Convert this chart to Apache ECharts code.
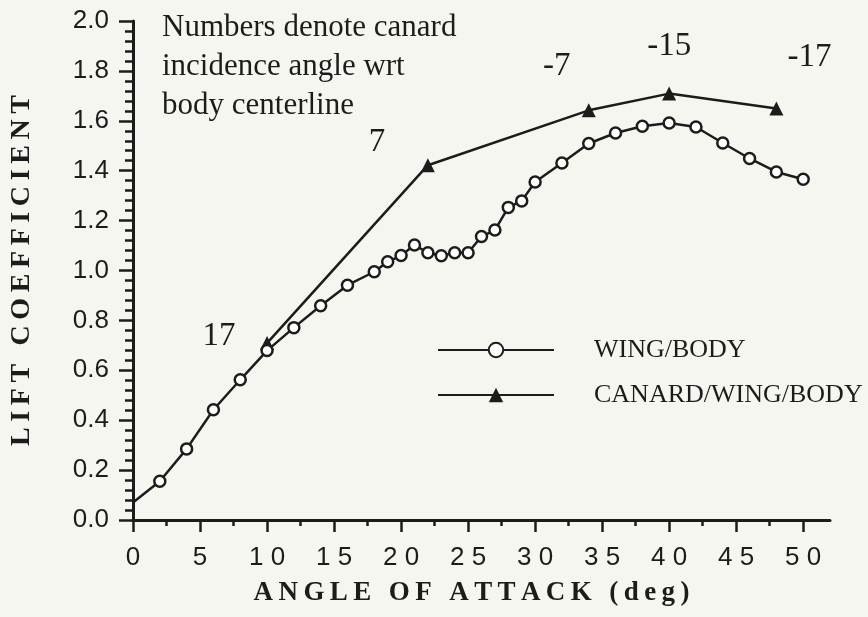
<!DOCTYPE html>
<html>
<head>
<meta charset="utf-8">
<script src="https://cdn.jsdelivr.net/npm/echarts@6/dist/echarts.min.js"></script>
<style>
  html, body { margin: 0; padding: 0; background: #f6f6f1; }
  #chart { width: 868px; height: 617px; }
</style>
</head>
<body>
<div id="chart"></div>
<script>
// wing/body: angle of attack (deg) and lift coefficient
var wingAlpha = [0, 2, 4, 6, 8, 10, 12, 14, 16, 18, 19, 20, 21, 22, 23, 24, 25, 26, 27, 28, 29, 30, 32, 34, 36, 38, 40, 42, 44, 46, 48, 50]
var wingCl = [0.07, 0.155, 0.285, 0.442, 0.562, 0.679, 0.771, 0.859, 0.941, 0.995, 1.035, 1.06, 1.102, 1.071, 1.059, 1.071, 1.071, 1.136, 1.162, 1.253, 1.279, 1.355, 1.431, 1.509, 1.551, 1.578, 1.591, 1.575, 1.511, 1.449, 1.395, 1.366]
// canard/wing/body
var canardAlpha = [10, 22, 34, 40, 48]
var canardCl = [0.709, 1.422, 1.642, 1.709, 1.649]
// canard incidence angle wrt body centerline, one per canard point
var incidence = [17, 7, -7, -15, -17]
// axis ticks
var xMajorTicks = [0, 5, 10, 15, 20, 25, 30, 35, 40, 45, 50]
var xMinorTicks = [2.5, 7.5, 12.5, 17.5, 22.5, 27.5, 32.5, 37.5, 42.5, 47.5]

var ink = '#1c1c1c'
var serif = 'Liberation Serif'
var sans = 'Liberation Sans'
// where each incidence number sits relative to its point
var labelOffsets = [[-48, -7], [-51, -23], [-32, -44], [0, -47], [33, -51]]

function spaced(s, sep) {
  return s.split('').join(sep)
}

var wingData = wingAlpha.map(function (a, i) {
  var item = { value: [a, wingCl[i]] }
  if (i === 0) item.symbol = 'none'
  return item
})
var canardData = canardAlpha.map(function (a, i) {
  return { value: [a, canardCl[i]], label: { offset: labelOffsets[i] } }
})

var chart = echarts.init(document.getElementById('chart'))
chart.setOption({
  animation: false,
  backgroundColor: '#f6f6f1',
  title: {
    text: 'Numbers denote canard\nincidence angle wrt\nbody centerline',
    left: 162,
    top: 8,
    padding: 0,
    textStyle: { fontFamily: serif, fontSize: 31, fontWeight: 'normal', color: ink, lineHeight: 39 }
  },
  legend: [
    {
      data: ['WING/BODY'],
      left: 437, top: 337, padding: 0,
      itemWidth: 116, itemHeight: 18,
      textStyle: { fontFamily: serif, fontSize: 26, color: ink, padding: [10, 0, 0, 35] }
    },
    {
      data: ['CANARD/WING/BODY'],
      left: 437, top: 382, padding: 0,
      itemWidth: 116, itemHeight: 18,
      textStyle: { fontFamily: serif, fontSize: 26, color: ink, padding: [10, 0, 0, 35] }
    }
  ],
  grid: { left: 129, right: 38, top: 21, bottom: 97 },
  xAxis: [
    {
      type: 'value', min: 0, max: 52, position: 'bottom',
      name: spaced('ANGLE OF ATTACK (deg)', '\u2009'),
      nameLocation: 'middle', nameGap: 60,
      nameTextStyle: { fontFamily: serif, fontSize: 27, fontWeight: 'bold', color: ink, padding: [0, 20, 0, 0] },
      splitLine: { show: false },
      axisLine: { lineStyle: { color: ink, width: 3 } },
      axisTick: { customValues: xMajorTicks, length: 12, lineStyle: { color: ink, width: 2.5 } },
      axisLabel: {
        customValues: xMajorTicks, margin: 25,
        fontFamily: sans, fontSize: 26, color: ink,
        formatter: function (v) { return spaced(String(v), ' ') }
      }
    },
    {
      type: 'value', min: 0, max: 52, position: 'bottom',
      splitLine: { show: false },
      axisLine: { show: false },
      axisTick: { customValues: xMinorTicks, length: 6, lineStyle: { color: ink, width: 2.5 } },
      axisLabel: { show: false }
    }
  ],
  yAxis: {
    type: 'value', min: 0, max: 2, interval: 0.2,
    name: spaced('LIFT COEFFICIENT', '\u2009'),
    nameLocation: 'middle', nameGap: 97, nameRotate: 90,
    nameTextStyle: { fontFamily: serif, fontSize: 28, fontWeight: 'bold', color: ink },
    splitLine: { show: false },
    axisLine: { lineStyle: { color: ink, width: 3 } },
    axisTick: { length: 14, lineStyle: { color: ink, width: 2.5 } },
    minorTick: { show: true, splitNumber: 5, length: 8, lineStyle: { color: ink, width: 2.5 } },
    axisLabel: {
      margin: 24, fontFamily: sans, fontSize: 26, color: ink,
      formatter: function (v) { return v.toFixed(1) }
    }
  },
  series: [
    {
      name: 'WING/BODY',
      type: 'line',
      data: wingData,
      symbol: 'circle',
      symbolSize: 11,
      lineStyle: { color: ink, width: 2.5 },
      itemStyle: { color: '#ffffff', borderColor: ink, borderWidth: 2.5 },
      z: 3
    },
    {
      name: 'CANARD/WING/BODY',
      type: 'line',
      data: canardData,
      symbol: 'triangle',
      symbolSize: 14,
      lineStyle: { color: ink, width: 2.5 },
      itemStyle: { color: ink },
      label: {
        show: true,
        position: 'inside',
        fontFamily: serif,
        fontSize: 33,
        color: ink,
        formatter: function (p) { return String(incidence[p.dataIndex]) }
      },
      z: 2
    }
  ]
})
</script>
</body>
</html>
